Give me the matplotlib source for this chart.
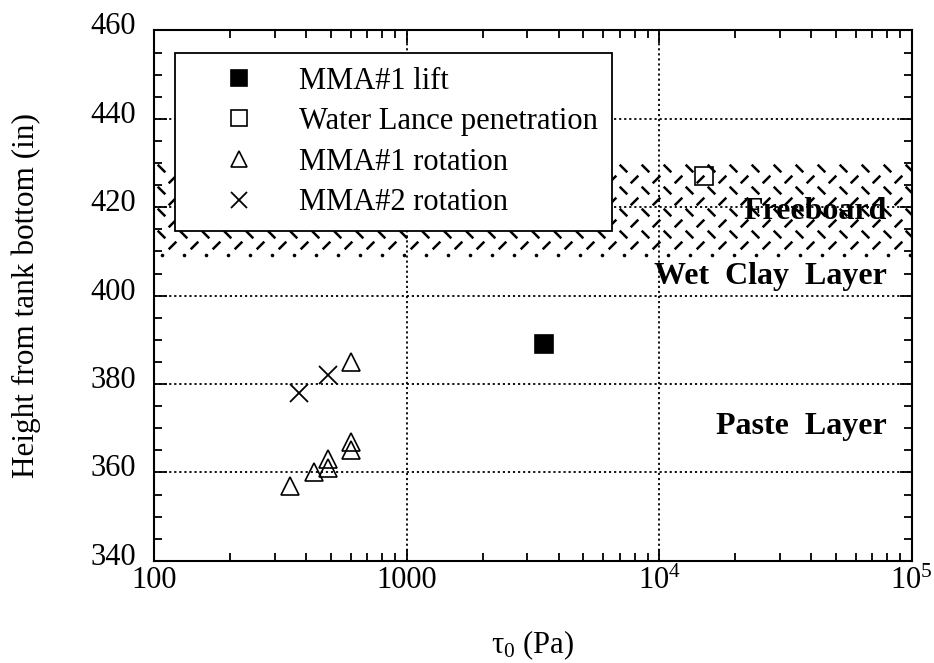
import numpy as np
import matplotlib
matplotlib.use("Agg")
import matplotlib.pyplot as plt
from matplotlib.ticker import FixedLocator, FixedFormatter, MultipleLocator, LogLocator, NullFormatter
import matplotlib.transforms as mtransforms
from matplotlib.path import Path

plt.rcParams['font.family'] = ['Liberation Serif', 'DejaVu Serif']
plt.rcParams['mathtext.fontset'] = 'custom'
plt.rcParams['mathtext.rm'] = 'Liberation Serif'
plt.rcParams['mathtext.it'] = 'Liberation Serif:italic'

# ---- data ----
lift_x = [3500]
lift_y = [389]
lance_x = [15000]
lance_y = [427]
rot1_x = [600, 600, 600, 490, 490, 430, 345]
rot1_y = [385, 367, 365, 363, 361, 360, 357]
rot2_x = [375, 490]
rot2_y = [378, 382]
freeboard_lo, freeboard_hi = 408.5, 430
xticks = [100, 1000, 1e4, 1e5]
xtick_labels = ['100', '1000', r'$10^4$', r'$10^5$']
yticks = [340, 360, 380, 400, 420, 440, 460]

fig = plt.figure(figsize=(9.34, 6.63), dpi=100)
ax = fig.add_axes([0.165, 0.154, 0.811, 0.800])
ax.set_xscale('log')
ax.set_xlim(100, 1e5)
ax.set_ylim(340, 460)

# ---- hatched freeboard band (dash pattern) ----
band = ax.axhspan(freeboard_lo, freeboard_hi, facecolor='white', edgecolor='none', zorder=1)
W = 0.811 * 934
per = 22.0 / W                      # horizontal period (axes fraction)
blend = mtransforms.blended_transform_factory(ax.transAxes, ax.transData)
back = Path([(-0.5, 0.5), (0.5, -0.5)], [Path.MOVETO, Path.LINETO])
fwd = Path([(-0.5, -0.5), (0.5, 0.5)], [Path.MOVETO, Path.LINETO])
xs_a = np.arange(per * 0.3, 1.0, per)
xs_b = xs_a + per / 2
for yr in np.arange(freeboard_hi - 1.0, freeboard_lo + 2, -5.0):
    l1, = ax.plot(xs_a, np.full_like(xs_a, yr), ls='none', marker=back, ms=5.5,
                  mec='black', mew=1.8, transform=blend, zorder=1.5)
    l2, = ax.plot(xs_b, np.full_like(xs_b, yr - 2.5), ls='none', marker=fwd, ms=5.5,
                  mec='black', mew=1.8, transform=blend, zorder=1.5)
    for l in (l1, l2):
        l.set_clip_path(band)
xs_d = xs_a + per * 0.05
ld, = ax.plot(xs_d, np.full_like(xs_d, freeboard_lo + 0.6), ls='none', marker='o', ms=2.6,
              mfc='black', mec='none', transform=blend, zorder=1.5)

ax.grid(True, which='major', linestyle=(0, (1.2, 1.6)), color='black', lw=1.3, zorder=2)

ms = 13
ax.plot(lift_x, lift_y, 's', ms=ms, mfc='black', mec='black', mew=1.2, ls='none', label='MMA#1 lift', zorder=5)
ax.plot(lance_x, lance_y, 's', ms=ms, mfc='none', mec='black', mew=1.2, ls='none', label='Water Lance penetration', zorder=5)
ax.plot(rot1_x, rot1_y, '^', ms=ms, mfc='none', mec='black', mew=1.2, ls='none', label='MMA#1 rotation', zorder=5)
ax.plot(rot2_x, rot2_y, 'x', ms=ms, mfc='none', mec='black', mew=1.3, ls='none', label='MMA#2 rotation', zorder=5)

leg = ax.legend(loc='upper left', bbox_to_anchor=(0.028, 0.958), borderaxespad=0,
                fontsize=22, frameon=True, fancybox=False, framealpha=1,
                edgecolor='black', borderpad=0.45, handlelength=3.3,
                handletextpad=0.3, labelspacing=0.38, markerscale=0.9)
leg.get_frame().set_linewidth(1.3)
leg.set_zorder(10)

for sp_ in ax.spines.values():
    sp_.set_linewidth(1.5)

ax.xaxis.set_major_locator(FixedLocator(xticks))
ax.xaxis.set_major_formatter(FixedFormatter(xtick_labels))
ax.xaxis.set_minor_locator(LogLocator(base=10, subs=np.arange(2, 10)))
ax.xaxis.set_minor_formatter(NullFormatter())
ax.yaxis.set_major_locator(FixedLocator(yticks))
ax.yaxis.set_minor_locator(MultipleLocator(5))

ax.tick_params(which='both', direction='in', top=True, right=True, width=1.3, labelsize=22)
ax.tick_params(which='major', length=9)
ax.tick_params(which='minor', length=6)
ax.tick_params(axis='x', which='major', pad=4)
ax.tick_params(axis='y', which='major', pad=13)

offset = mtransforms.ScaledTranslation(0, 7 / 100, fig.dpi_scale_trans)
for lbl in ax.get_yticklabels():
    lbl.set_transform(lbl.get_transform() + offset)

bold = dict(fontsize=23, fontweight='bold', ha='right', va='center', zorder=6, transform=blend)
ax.text(0.967, 419, 'Freeboard', **bold)
ax.text(0.967, 404.3, 'Wet  Clay  Layer', **bold)
ax.text(0.967, 370.3, 'Paste  Layer', **bold)

ax.set_ylabel('Height from tank bottom (in)', fontsize=22.5)
ax.set_xlabel(r'τ$_0$ (Pa)', fontsize=22)
ax.yaxis.set_label_coords(-0.149, 0.5)
ax.xaxis.set_label_coords(0.5, -0.127)

fig.savefig('out.png', dpi=100)
